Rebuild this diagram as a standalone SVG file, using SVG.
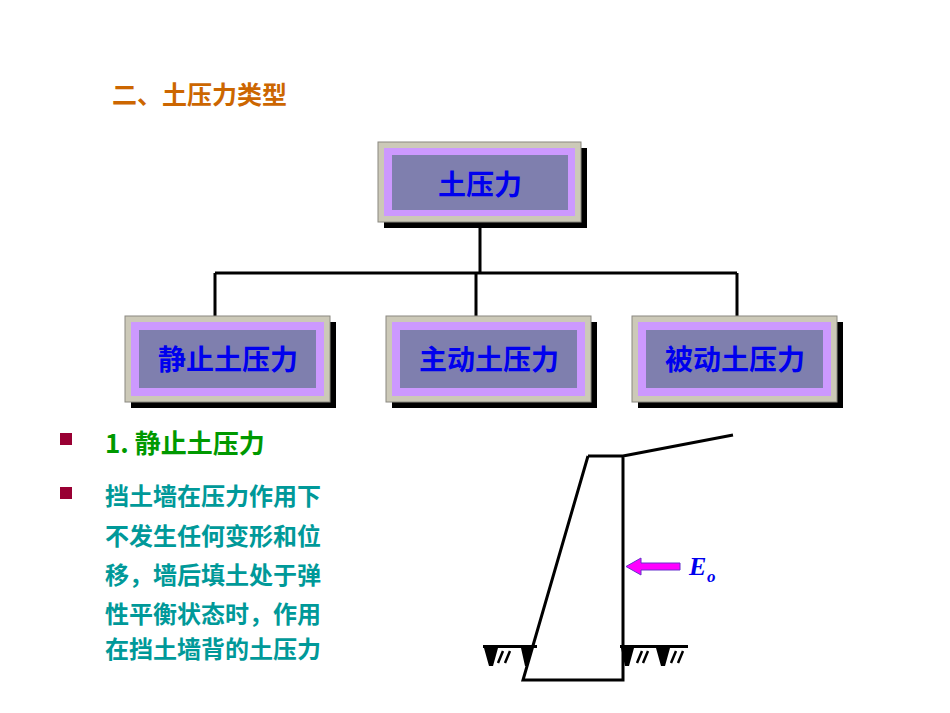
<svg xmlns="http://www.w3.org/2000/svg" width="950" height="713" viewBox="0 0 950 713">
<style>
.t{font-family:"Noto Sans CJK SC","Liberation Serif",serif;font-weight:bold}
.bx{fill:#ccc9b8;stroke:#8a8880;stroke-width:1}
.sh{fill:#000}
.lv{fill:#cc99ff}
.in{fill:#7f7fae}
.bt{fill:#0000ee;font-size:28px;text-anchor:middle}
.c{stroke:#000;stroke-width:3;fill:none}
.w{stroke:#000;stroke-width:3;fill:none}
</style>
<rect width="950" height="713" fill="#fff"/>
<text class="t" x="112" y="104" font-size="25" fill="#cc6600">二、土压力类型</text>
<g id="connectors">
<path class="c" d="M480 224V273M215 273H737M215 273V316M476 273V316M737 273V316"/>
</g>
<g id="n0"><rect class="sh" x="384" y="148" width="203" height="80"/><rect class="bx" x="378" y="142" width="203" height="80"/><rect class="lv" x="384" y="148" width="191" height="68"/><rect class="in" x="392" y="155" width="176" height="55"/><text class="t bt" x="480" y="195">土压力</text></g>
<g id="n1"><rect class="sh" x="131" y="322" width="205" height="86"/><rect class="bx" x="125" y="316" width="205" height="86"/><rect class="lv" x="131" y="322" width="193" height="74"/><rect class="in" x="139" y="330" width="177" height="58"/><text class="t bt" x="228" y="370">静止土压力</text></g>
<g id="n2"><rect class="sh" x="392" y="322" width="205" height="86"/><rect class="bx" x="386" y="316" width="205" height="86"/><rect class="lv" x="392" y="322" width="193" height="74"/><rect class="in" x="400" y="330" width="177" height="58"/><text class="t bt" x="489" y="370">主动土压力</text></g>
<g id="n3"><rect class="sh" x="638" y="322" width="205" height="86"/><rect class="bx" x="632" y="316" width="205" height="86"/><rect class="lv" x="638" y="322" width="193" height="74"/><rect class="in" x="646" y="330" width="177" height="58"/><text class="t bt" x="735" y="370">被动土压力</text></g>
<rect x="60" y="433" width="12" height="12" fill="#990033"/>
<rect x="60" y="487" width="12" height="12" fill="#990033"/>
<text class="t" x="105" y="453" font-size="26" fill="#009900">1. 静止土压力</text>
<g class="t" font-size="24" fill="#009999">
<text x="105" y="505">挡土墙在压力作用下</text>
<text x="105" y="545">不发生任何变形和位</text>
<text x="105" y="584">移，墙后填土处于弹</text>
<text x="105" y="623">性平衡状态时，作用</text>
<text x="105" y="658">在挡土墙背的土压力</text>
</g>
<path class="w" d="M588 456H623V680H523L588 456M623 456L733 435"/>
<g fill="#000">
<path d="M483 645H537V648H483Z M620 645H688V648H620Z"/>
<path d="M484 648h14l-5 18h-4z M521 648h12l-6 18h-2z M621 648h13l-5 18h-4z M656 648h14l-5 18h-4z"/>
<path d="M503 651l-5 12M510 651l-5 12M642 651l-5 12M648 651l-5 12M676 651l-5 12M683 651l-5 12" stroke="#000" stroke-width="2.5"/>
</g>
<path d="M680 563H641V558L626 566.5L641 575V570H680Z" fill="#ff00ff" stroke="#6633cc" stroke-width="1"/>
<text x="689" y="575" font-family="Liberation Serif,serif" font-weight="bold" font-style="italic" font-size="26" fill="#0000ee">E</text>
<text x="707" y="582" font-family="Liberation Serif,serif" font-weight="bold" font-style="italic" font-size="17" fill="#0000ee">o</text>
</svg>
